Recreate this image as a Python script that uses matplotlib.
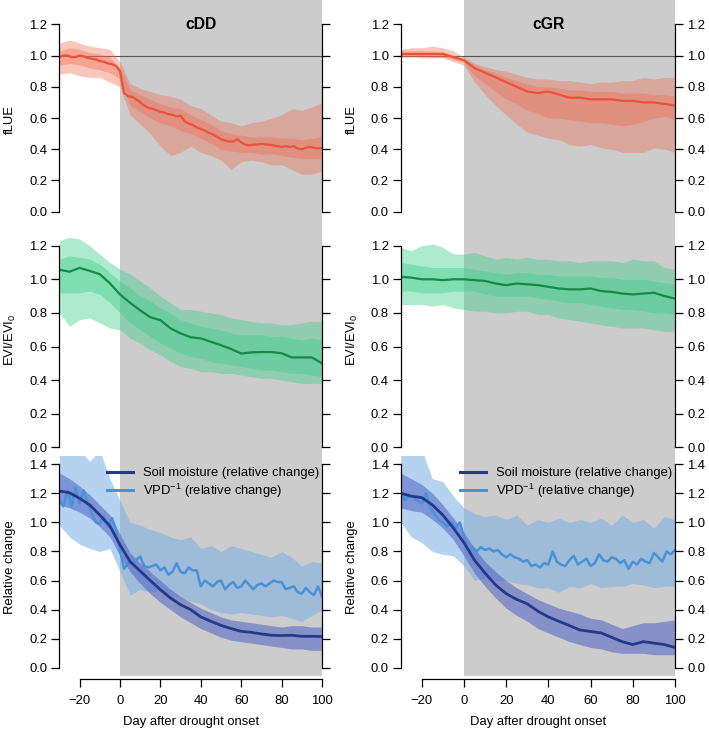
import numpy as np
import matplotlib
matplotlib.use("Agg")
import matplotlib.pyplot as plt
import matplotlib.transforms as mtransforms
from matplotlib.patches import Rectangle
from matplotlib.lines import Line2D

plt.rcParams['font.family'] = ['Liberation Sans', 'DejaVu Sans']
plt.rcParams['mathtext.default'] = 'regular'

# ---- data ----
day2 = np.arange(-30, 101, 2)
day5 = np.arange(-30, 101, 5)

# fLUE, cDD
flue_cdd = [0.99, 1.0, 1.0, 0.99, 0.99, 1.0, 0.995, 0.985, 0.98, 0.975, 0.965, 0.96, 0.95, 0.945, 0.935,
            0.90, 0.76, 0.74, 0.735, 0.72, 0.70, 0.68, 0.665, 0.66, 0.65, 0.64, 0.635, 0.625, 0.62, 0.61, 0.615,
            0.58, 0.565, 0.555, 0.54, 0.53, 0.52, 0.505, 0.495, 0.48, 0.465,
            0.455, 0.45, 0.45, 0.465, 0.445, 0.43, 0.425, 0.43, 0.43, 0.435,
            0.43, 0.43, 0.425, 0.42, 0.415, 0.42, 0.415, 0.42, 0.405, 0.40,
            0.41, 0.415, 0.41, 0.405, 0.41]
flue_cdd_o_hi = [1.08, 1.10, 1.08, 1.06, 1.05, 1.04, 0.96, 0.82, 0.79, 0.77, 0.75, 0.74, 0.72, 0.68,
                 0.66, 0.62, 0.58, 0.57, 0.55, 0.57, 0.58, 0.60, 0.62, 0.66, 0.65, 0.67, 0.70]
flue_cdd_o_lo = [0.88, 0.89, 0.87, 0.86, 0.86, 0.83, 0.80, 0.62, 0.56, 0.50, 0.42, 0.36, 0.38, 0.42,
                 0.38, 0.36, 0.33, 0.27, 0.32, 0.33, 0.32, 0.30, 0.30, 0.27, 0.24, 0.24, 0.26]
flue_cdd_i_hi = [1.03, 1.05, 1.04, 1.02, 1.01, 0.99, 0.92, 0.78, 0.75, 0.72, 0.69, 0.67, 0.66, 0.62,
                 0.59, 0.56, 0.52, 0.50, 0.49, 0.48, 0.48, 0.48, 0.47, 0.47, 0.46, 0.47, 0.48]
flue_cdd_i_lo = [0.94, 0.95, 0.94, 0.92, 0.91, 0.89, 0.85, 0.68, 0.64, 0.60, 0.57, 0.55, 0.52, 0.50,
                 0.47, 0.44, 0.40, 0.39, 0.38, 0.38, 0.37, 0.37, 0.36, 0.35, 0.34, 0.34, 0.34]

# fLUE, cGR
flue_cgr = [1.01, 1.01, 1.01, 1.01, 1.01, 0.99, 0.97, 0.92, 0.89, 0.86, 0.83, 0.80, 0.77, 0.76,
            0.77, 0.75, 0.73, 0.73, 0.72, 0.72, 0.72, 0.71, 0.71, 0.70, 0.70, 0.69, 0.68]
flue_cgr_o_hi = [1.04, 1.05, 1.05, 1.06, 1.05, 1.03, 0.99, 0.95, 0.93, 0.91, 0.90, 0.88, 0.86, 0.85,
                 0.85, 0.84, 0.84, 0.83, 0.82, 0.83, 0.83, 0.84, 0.84, 0.86, 0.85, 0.86, 0.86]
flue_cgr_o_lo = [0.99, 0.99, 0.985, 0.985, 0.985, 0.96, 0.94, 0.83, 0.75, 0.68, 0.62, 0.56, 0.51, 0.49,
                 0.47, 0.46, 0.43, 0.42, 0.43, 0.41, 0.40, 0.38, 0.38, 0.38, 0.41, 0.40, 0.38]
flue_cgr_i_hi = [1.03, 1.03, 1.03, 1.03, 1.025, 1.0, 0.98, 0.94, 0.91, 0.89, 0.86, 0.84, 0.82, 0.80,
                 0.80, 0.79, 0.78, 0.78, 0.77, 0.77, 0.77, 0.76, 0.76, 0.76, 0.75, 0.75, 0.74]
flue_cgr_i_lo = [0.995, 0.995, 0.995, 0.99, 0.99, 0.975, 0.955, 0.87, 0.82, 0.77, 0.72, 0.69, 0.65, 0.63,
                 0.60, 0.60, 0.59, 0.58, 0.57, 0.57, 0.56, 0.55, 0.56, 0.58, 0.60, 0.61, 0.59]

# EVI/EVI0, cDD
evi_cdd = [1.057, 1.045, 1.068, 1.05, 1.03, 0.976, 0.91, 0.86, 0.815, 0.774, 0.757, 0.708, 0.678, 0.655,
           0.648, 0.628, 0.608, 0.585, 0.558, 0.565, 0.567, 0.567, 0.56, 0.535, 0.535, 0.535, 0.50]
evi_cdd_o_hi = [1.23, 1.25, 1.24, 1.20, 1.15, 1.10, 1.06, 1.03, 0.99, 0.95, 0.90, 0.86, 0.82, 0.82,
                0.81, 0.80, 0.79, 0.77, 0.76, 0.75, 0.74, 0.74, 0.73, 0.73, 0.74, 0.75, 0.75]
evi_cdd_o_lo = [0.80, 0.72, 0.76, 0.77, 0.74, 0.71, 0.70, 0.65, 0.62, 0.58, 0.55, 0.51, 0.48, 0.47,
                0.45, 0.45, 0.44, 0.44, 0.43, 0.42, 0.41, 0.41, 0.40, 0.39, 0.38, 0.38, 0.38]
evi_cdd_i_hi = [1.12, 1.14, 1.13, 1.12, 1.09, 1.04, 0.99, 0.95, 0.90, 0.87, 0.83, 0.80, 0.76, 0.74,
                0.72, 0.71, 0.70, 0.68, 0.67, 0.67, 0.67, 0.66, 0.66, 0.65, 0.64, 0.65, 0.64]
evi_cdd_i_lo = [0.92, 0.92, 0.92, 0.93, 0.91, 0.86, 0.80, 0.74, 0.70, 0.66, 0.62, 0.59, 0.56, 0.54,
                0.53, 0.51, 0.50, 0.49, 0.48, 0.47, 0.46, 0.46, 0.45, 0.44, 0.44, 0.43, 0.42]

# EVI/EVI0, cGR
evi_cgr = [1.015, 1.01, 1.0, 1.0, 0.995, 1.0, 1.0, 0.995, 0.99, 0.975, 0.965, 0.975, 0.97, 0.965,
           0.955, 0.945, 0.94, 0.94, 0.945, 0.93, 0.925, 0.915, 0.91, 0.915, 0.92, 0.90, 0.885]
evi_cgr_o_hi = [1.19, 1.17, 1.20, 1.21, 1.19, 1.15, 1.15, 1.16, 1.14, 1.12, 1.13, 1.12, 1.13, 1.12,
                1.12, 1.11, 1.11, 1.10, 1.11, 1.11, 1.11, 1.10, 1.12, 1.11, 1.11, 1.07, 1.06]
evi_cgr_o_lo = [0.85, 0.85, 0.85, 0.84, 0.85, 0.83, 0.82, 0.81, 0.81, 0.80, 0.80, 0.81, 0.81, 0.79,
                0.79, 0.77, 0.76, 0.75, 0.74, 0.73, 0.72, 0.71, 0.71, 0.71, 0.70, 0.69, 0.69]
evi_cgr_i_hi = [1.10, 1.09, 1.08, 1.07, 1.07, 1.07, 1.07, 1.06, 1.05, 1.04, 1.03, 1.04, 1.04, 1.03,
                1.03, 1.02, 1.02, 1.02, 1.02, 1.01, 1.01, 1.0, 1.0, 1.0, 0.99, 0.98, 0.97]
evi_cgr_i_lo = [0.93, 0.93, 0.92, 0.92, 0.92, 0.93, 0.93, 0.93, 0.91, 0.90, 0.90, 0.90, 0.90, 0.89,
                0.88, 0.87, 0.86, 0.86, 0.85, 0.84, 0.83, 0.82, 0.82, 0.81, 0.80, 0.80, 0.79]

# soil moisture and VPD^-1, cDD
soil_cdd = [1.216, 1.203, 1.165, 1.12, 1.05, 0.975, 0.845, 0.73, 0.665, 0.60, 0.537, 0.48, 0.434, 0.40,
            0.35, 0.32, 0.292, 0.27, 0.251, 0.244, 0.233, 0.224, 0.222, 0.224, 0.217, 0.217, 0.215]
soil_cdd_hi = [1.34, 1.30, 1.25, 1.19, 1.12, 1.05, 0.92, 0.79, 0.72, 0.66, 0.60, 0.54, 0.49, 0.45,
               0.41, 0.38, 0.35, 0.33, 0.32, 0.31, 0.30, 0.29, 0.28, 0.29, 0.29, 0.28, 0.28]
soil_cdd_lo = [1.12, 1.10, 1.07, 1.03, 0.97, 0.90, 0.77, 0.66, 0.58, 0.51, 0.45, 0.40, 0.35, 0.31,
               0.27, 0.24, 0.21, 0.19, 0.18, 0.17, 0.16, 0.15, 0.14, 0.13, 0.13, 0.12, 0.12]
vpd_cdd = [1.15, 1.11, 1.22, 1.11, 1.24, 1.13, 1.22, 1.13, 1.06, 1.0, 0.99, 1.04, 0.97, 1.03, 0.95,
           0.81, 0.68, 0.72, 0.72, 0.74, 0.765, 0.70, 0.69, 0.70, 0.71, 0.67, 0.69, 0.64, 0.66, 0.72, 0.66,
           0.65, 0.69, 0.67, 0.67, 0.56, 0.60, 0.58, 0.56, 0.59, 0.60,
           0.54, 0.57, 0.59, 0.55, 0.56, 0.60, 0.57, 0.54, 0.57, 0.58,
           0.56, 0.58, 0.60, 0.59, 0.59, 0.54, 0.55, 0.56, 0.52, 0.51,
           0.55, 0.52, 0.50, 0.56, 0.49]
vpd_cdd_hi = [1.50, 1.50, 1.50, 1.42, 1.50, 1.30, 1.15, 1.00, 0.98, 0.95, 0.93, 0.90, 0.88, 0.90,
              0.82, 0.84, 0.80, 0.84, 0.82, 0.80, 0.78, 0.76, 0.80, 0.76, 0.70, 0.73, 0.72]
vpd_cdd_lo = [0.98, 0.90, 0.85, 0.82, 0.80, 0.82, 0.66, 0.50, 0.54, 0.52, 0.53, 0.50, 0.48, 0.46,
              0.44, 0.40, 0.38, 0.37, 0.38, 0.37, 0.36, 0.35, 0.36, 0.34, 0.32, 0.36, 0.40]

# soil moisture and VPD^-1, cGR
soil_cgr = [1.20, 1.18, 1.17, 1.12, 1.05, 0.96, 0.86, 0.74, 0.65, 0.57, 0.51, 0.47, 0.44, 0.39,
            0.35, 0.32, 0.29, 0.26, 0.25, 0.24, 0.21, 0.18, 0.16, 0.18, 0.17, 0.16, 0.14]
soil_cgr_hi = [1.34, 1.30, 1.26, 1.20, 1.12, 1.03, 0.93, 0.82, 0.73, 0.66, 0.60, 0.55, 0.51, 0.47,
               0.44, 0.41, 0.39, 0.37, 0.34, 0.33, 0.30, 0.27, 0.29, 0.31, 0.31, 0.32, 0.33]
soil_cgr_lo = [1.10, 1.08, 1.07, 1.02, 0.96, 0.88, 0.77, 0.65, 0.56, 0.48, 0.41, 0.36, 0.32, 0.27,
               0.24, 0.21, 0.18, 0.16, 0.14, 0.13, 0.11, 0.10, 0.10, 0.10, 0.09, 0.09, 0.09]
vpd_cgr = [1.21, 1.15, 1.18, 1.17, 1.15, 1.13, 1.20, 1.10, 1.06, 1.02, 1.00, 0.97, 1.0, 0.96, 1.0,
           0.90, 0.80, 0.83, 0.80, 0.83, 0.81, 0.82, 0.80, 0.81, 0.78, 0.76, 0.78, 0.76, 0.75, 0.73, 0.74,
           0.70, 0.71, 0.69, 0.72, 0.71, 0.80, 0.73, 0.71, 0.70, 0.74,
           0.77, 0.71, 0.73, 0.75, 0.70, 0.72, 0.78, 0.74, 0.73, 0.76,
           0.75, 0.72, 0.74, 0.68, 0.73, 0.71, 0.75, 0.73, 0.72, 0.79,
           0.76, 0.73, 0.80, 0.78, 0.81]
vpd_cgr_hi = [1.50, 1.50, 1.50, 1.30, 1.28, 1.18, 1.10, 1.06, 1.04, 1.05, 1.02, 1.05, 0.98, 1.02,
              1.00, 1.03, 1.00, 1.02, 1.00, 1.03, 0.98, 1.05, 1.00, 1.02, 0.96, 1.04, 1.02]
vpd_cgr_lo = [1.00, 0.90, 0.86, 0.80, 0.78, 0.77, 0.70, 0.60, 0.62, 0.60, 0.60, 0.58, 0.57, 0.55,
              0.55, 0.52, 0.56, 0.55, 0.58, 0.55, 0.56, 0.56, 0.58, 0.57, 0.55, 0.56, 0.56]

titles = ['cDD', 'cGR']
row_labels = ['fLUE', 'EVI/EVI$_0$', 'Relative change']
legend_labels = ['Soil moisture (relative change)', 'VPD$^{-1}$ (relative change)']

# ---- colours ----
red_line, red_band = '#E9533B', '#F06A50'
green_line, green_band = '#17874A', '#3FCF8A'
soil_line, soil_band = '#27378A', '#4E62C4'
vpd_line, vpd_band = '#4A92D6', '#79B0E6'

# ---- layout in pixels ----
W, H = 709, 730
fig = plt.figure(figsize=(W / 100, H / 100), dpi=100)

def box(x0, x1, ytop, ybot):
    return [x0 / W, 1 - ybot / H, (x1 - x0) / W, (ybot - ytop) / H]

cols = [(59.4, 322.0), (400.7, 675.0)]
rows = [(0, 220, (-0.053, 1.356), 1.2),
        (237.6, 455.4, (-0.048, 1.248), 1.2),
        (456, 676, (-0.056, 1.456), 1.4)]
label_y = [120, 340, 567]
fs = 9.4

axes = [[None, None] for _ in rows]
for r, (yt, yb, ylim, ymax) in enumerate(rows):
    for c, (x0, x1) in enumerate(cols):
        ax = fig.add_axes(box(x0, x1, yt, yb))
        ax.set_facecolor('none')
        ax.set_xlim(-30, 100)
        ax.set_ylim(*ylim)
        for s in ['top', 'bottom']:
            ax.spines[s].set_visible(False)
        for s in ['left', 'right']:
            ax.spines[s].set_bounds(0, ymax)
            ax.spines[s].set_linewidth(0.9)
        ax.set_yticks(np.round(np.arange(0, ymax + 0.01, 0.2), 1))
        ax.set_yticklabels(['%.1f' % v for v in np.arange(0, ymax + 0.01, 0.2)])
        ax.tick_params(axis='y', left=True, right=True, labelleft=True, labelright=(c == 1),
                       direction='out', length=5.5, width=0.9, pad=3.2, labelsize=fs)
        if r == 2:
            ax.spines['bottom'].set_visible(True)
            ax.spines['bottom'].set_position(('outward', 2))
            ax.spines['bottom'].set_bounds(-20, 100)
            ax.spines['bottom'].set_linewidth(0.9)
            ax.set_xticks([-20, 0, 20, 40, 60, 80, 100])
            ax.tick_params(axis='x', direction='out', length=6, width=0.9, pad=6, labelsize=fs)
            ax.text(0.5, (676 - 722) / 220, 'Day after drought onset', transform=ax.transAxes,
                    ha='center', va='center', fontsize=fs)
        else:
            ax.set_xticks([])
        axes[r][c] = ax

        # grey drought period, continuous over the whole column
        tr = mtransforms.blended_transform_factory(ax.transData, fig.transFigure)
        if r == 0:
            fig.patches.append(Rectangle((0, 1 - 676 / H), 100, 676 / H, transform=tr,
                                         facecolor='#CCCCCC', edgecolor='none', zorder=-5))

# y labels: one at the far left, one between the two columns
for r, lab in enumerate(row_labels):
    yf = 1 - label_y[r] / H
    for xp in (10, 352):
        fig.text(xp / W, yf, lab, rotation=90, ha='center', va='center', fontsize=fs)

# titles
for c, t in enumerate(titles):
    axes[0][c].text(40, 1.2, t, ha='center', va='center', fontsize=11.3, fontweight='bold')

def ribbons(ax, x, lo_o, hi_o, lo_i, hi_i, band, alpha):
    ax.fill_between(x, lo_o, hi_o, color=band, alpha=alpha, lw=0)
    ax.fill_between(x, lo_i, hi_i, color=band, alpha=alpha, lw=0)

# fLUE
for c in range(2):
    axes[0][c].axhline(1.0, color='#555555', lw=0.8, zorder=1)
ribbons(axes[0][0], day5, flue_cdd_o_lo, flue_cdd_o_hi, flue_cdd_i_lo, flue_cdd_i_hi, red_band, 0.38)
axes[0][0].plot(day2, flue_cdd, color=red_line, lw=1.6)
ribbons(axes[0][1], day5, flue_cgr_o_lo, flue_cgr_o_hi, flue_cgr_i_lo, flue_cgr_i_hi, red_band, 0.38)
axes[0][1].plot(day5, flue_cgr, color=red_line, lw=1.6)

# EVI
ribbons(axes[1][0], day5, evi_cdd_o_lo, evi_cdd_o_hi, evi_cdd_i_lo, evi_cdd_i_hi, green_band, 0.42)
axes[1][0].plot(day5, evi_cdd, color=green_line, lw=1.6)
ribbons(axes[1][1], day5, evi_cgr_o_lo, evi_cgr_o_hi, evi_cgr_i_lo, evi_cgr_i_hi, green_band, 0.42)
axes[1][1].plot(day5, evi_cgr, color=green_line, lw=1.6)

# soil moisture / VPD
sets = [(vpd_cdd_lo, vpd_cdd_hi, vpd_cdd, soil_cdd_lo, soil_cdd_hi, soil_cdd),
        (vpd_cgr_lo, vpd_cgr_hi, vpd_cgr, soil_cgr_lo, soil_cgr_hi, soil_cgr)]
leg_x = [107, 460]
for c, (vlo, vhi, v, slo, shi, s) in enumerate(sets):
    ax = axes[2][c]
    ax.fill_between(day5, vlo, vhi, color=vpd_band, alpha=0.55, lw=0)
    ax.fill_between(day5, slo, shi, color=soil_band, alpha=0.55, lw=0)
    ax.plot(day2, v, color=vpd_line, lw=1.8)
    ax.plot(day5, s, color=soil_line, lw=2.0)
    handles = [Line2D([], [], color=soil_line, lw=2.2), Line2D([], [], color=vpd_line, lw=2.2)]
    x0, x1 = cols[c]
    ax.legend(handles, legend_labels, loc='upper left',
              bbox_to_anchor=((leg_x[c] - x0) / (x1 - x0), (676 - 467) / 220),
              frameon=False, borderpad=0, borderaxespad=0, handlelength=2.0,
              handletextpad=0.75, labelspacing=0.2, fontsize=fs)

fig.savefig('out.png', dpi=100)
